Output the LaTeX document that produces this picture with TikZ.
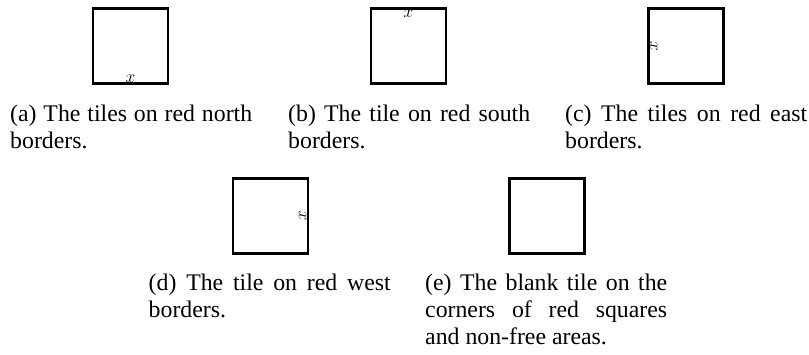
\documentclass[tikz,border=0pt]{standalone}
\usepackage{fontspec}
\setmainfont{Liberation Serif}
\begin{document}
\begin{tikzpicture}[x=1pt,y=-1pt,
  tile/.style={draw, line width=2.5pt, minimum width=75pt, minimum height=75pt, inner sep=0pt, outer sep=0pt},
  captext/.style={anchor=base west, text width=242pt, align=justify, inner sep=0pt, font=\fontsize{23.8}{27.4}\selectfont},
  lab/.style={inner sep=1.3pt, font=\fontsize{18}{20}\selectfont}]
\path[use as bounding box] (0,0) rectangle (809,354);
% row 1
\node[tile] (ta) at (130.5,46) {};
\node[tile] (tb) at (408.5,46) {};
\node[tile] (tc) at (686,46) {};
\node[lab, anchor=south] (xa) at (ta.south) {$x$};
\node[lab, anchor=north] (xb) at (tb.north) {$x$};
\node[lab, rotate=-90, anchor=south] (xc) at (tc.west) {$x$};
\node[captext] (ca) at (10,121) {(a) The tiles on red north\linebreak borders.};
\node[captext] (cb) at (288,121) {(b) The tile on red south\linebreak borders.};
\node[captext] (cc) at (565,121) {(c) The tiles on red east\linebreak borders.};
% row 2
\node[tile] (td) at (270.3,216) {};
\node[tile] (te) at (547,216) {};
\node[lab, rotate=90, anchor=south] (xd) at (td.east) {$x$};
\node[captext] (cd) at (148.5,290) {(d) The tile on red west\linebreak borders.};
\node[captext] (ce) at (425,290) {(e) The blank tile on the\linebreak corners of red squares\linebreak and non-free areas.};
\end{tikzpicture}
\end{document}
